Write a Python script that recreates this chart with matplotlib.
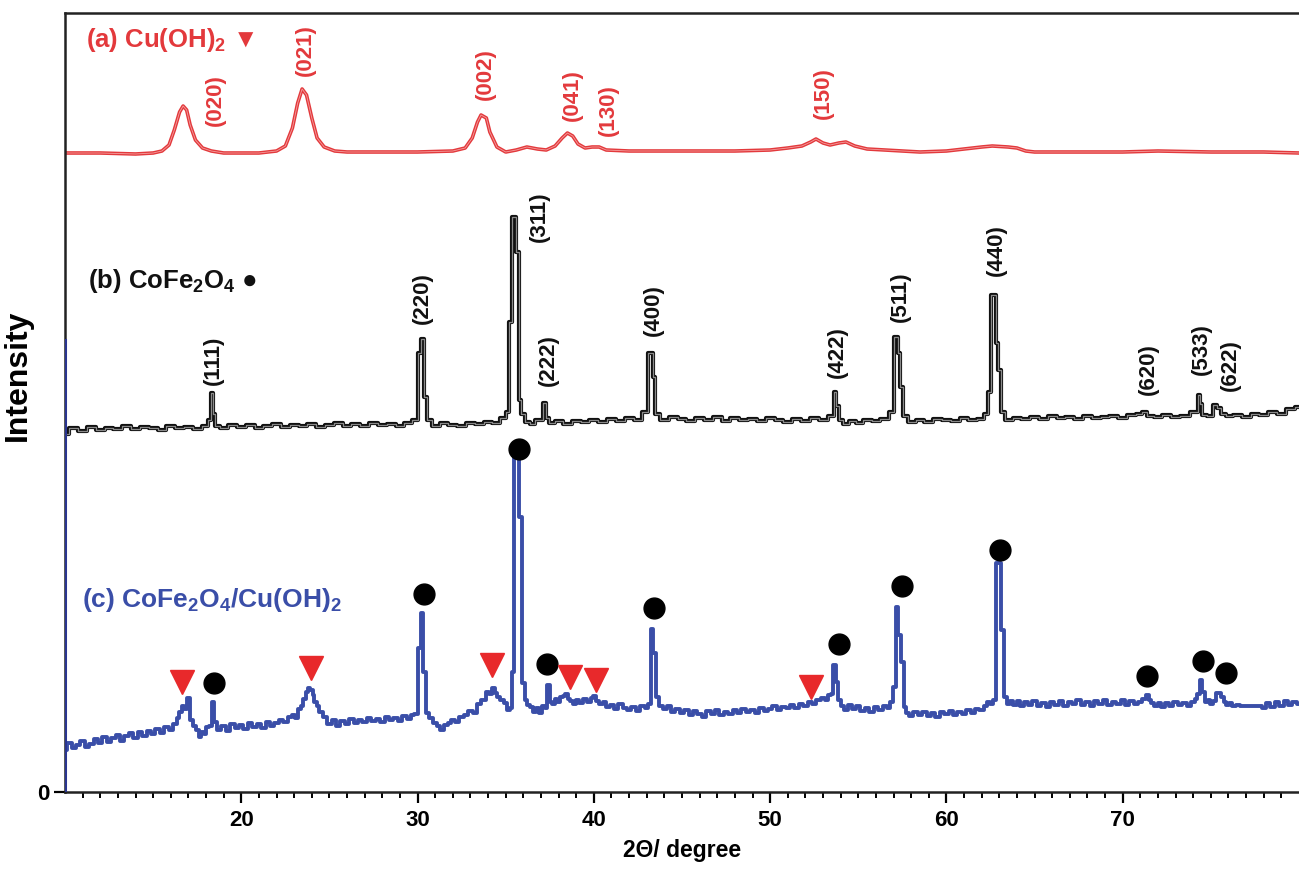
import matplotlib
matplotlib.use('Agg')
import matplotlib.pyplot as plt

plt.rcParams['font.family'] = ['Liberation Sans', 'DejaVu Sans']
plt.rcParams['font.weight'] = 'bold'
plt.rcParams['axes.labelweight'] = 'bold'
plt.rcParams['mathtext.default'] = 'regular'

RED = '#e3393c'
BLUE = '#3a4ea8'
BLACK = '#111111'

# (a) Cu(OH)2 pattern
a_two_theta = [10.0, 12.0, 14.0, 15.0, 15.5, 15.9, 16.2, 16.5, 16.7, 16.9, 17.1, 17.4, 17.8, 18.3, 19.0,
               20.0, 21.0, 22.0, 22.5, 22.9, 23.2, 23.45, 23.7, 24.0, 24.3, 24.7, 25.3, 26.0, 28.0, 30.0,
               32.0, 32.7, 33.1, 33.4, 33.6, 33.9, 34.1, 34.5, 35.0, 35.6, 36.2, 36.8, 37.3, 37.8, 38.2,
               38.5, 38.8, 39.1, 39.5, 39.9, 40.3, 40.7, 42.0, 45.0, 48.0, 50.0, 51.0, 51.8, 52.3, 52.6,
               53.0, 53.4, 53.9, 54.3, 54.8, 55.5, 56.5, 57.5, 58.5, 60.0, 61.0, 62.0, 62.6, 63.5, 64.0,
               64.5, 65.0, 68.0, 70.0, 72.0, 75.0, 78.0, 80.0]
a_intensity = [639, 639, 638, 639, 641, 647, 662, 680, 686, 682, 667, 652, 644, 641, 639,
               639, 639, 641, 646, 664, 689, 703, 697, 674, 654, 645, 641, 640, 640, 640,
               641, 644, 654, 670, 677, 674, 660, 645, 640, 642, 645, 643, 642, 646, 654,
               659, 656, 648, 644, 645, 645, 642, 641, 641, 641, 642, 644, 646, 650, 653,
               649, 647, 649, 650, 646, 643, 642, 641, 640, 641, 643, 645, 646, 645, 644,
               641, 640, 640, 640, 641, 640, 640, 639]

# (b) CoFe2O4 pattern
b_two_theta = [10.0, 10.5, 11.0, 11.5, 12.0, 12.5, 13.0, 13.5, 14.0, 14.5, 15.0, 15.5, 16.0, 16.5, 17.0,
               17.5, 18.0, 18.2, 18.33, 18.45, 18.6, 19.0, 19.5, 20.0, 20.5, 21.0, 21.5, 22.0, 22.5, 23.0,
               23.5, 24.0, 24.5, 25.0, 25.5, 26.0, 26.5, 27.0, 27.5, 28.0, 28.5, 29.0, 29.5, 29.9, 30.15,
               30.28, 30.42, 30.6, 31.0, 31.5, 32.0, 32.5, 33.0, 33.5, 34.0, 34.5, 34.9, 35.15, 35.27,
               35.42, 35.55, 35.67, 35.8, 35.95, 36.2, 36.5, 36.8, 37.05, 37.2, 37.35, 37.6, 38.0, 38.5,
               39.0, 39.5, 40.0, 40.5, 41.0, 41.5, 42.0, 42.5, 43.0, 43.14, 43.28, 43.42, 43.56, 44.0,
               44.5, 45.0, 45.5, 46.0, 46.5, 47.0, 47.5, 48.0, 48.5, 49.0, 49.5, 50.0, 50.5, 51.0, 51.5,
               52.0, 52.5, 53.0, 53.55, 53.68, 53.82, 53.95, 54.3, 54.7, 55.0, 55.5, 56.0, 56.5, 56.95,
               57.08, 57.2, 57.32, 57.45, 57.6, 58.0, 58.5, 59.0, 59.5, 60.0, 60.5, 61.0, 61.5, 62.0,
               62.25, 62.45, 62.62, 62.75, 62.88, 63.02, 63.15, 63.5, 64.0, 64.5, 65.0, 65.5, 66.0, 66.5,
               67.0, 67.5, 68.0, 68.5, 69.0, 69.5, 70.0, 70.5, 71.0, 71.2, 71.5, 72.0, 72.5, 73.0, 73.5,
               74.18, 74.31, 74.44, 74.6, 75.0, 75.27, 75.42, 75.7, 76.0, 76.5, 77.0, 77.5, 78.0, 78.5,
               79.0, 79.5, 80.0]
b_intensity = [358, 364, 361, 365, 362, 364, 363, 366, 363, 365, 364, 362, 366, 364, 365,
               363, 366, 372, 399, 378, 366, 364, 367, 365, 367, 364, 366, 368, 365, 367,
               366, 368, 365, 367, 369, 366, 368, 366, 369, 367, 368, 366, 369, 372, 439,
               453, 395, 372, 366, 369, 367, 366, 369, 368, 370, 369, 374, 380, 470,
               575, 575, 540, 392, 378, 370, 368, 372, 372, 389, 374, 369, 371, 368,
               371, 370, 372, 370, 373, 371, 374, 372, 380, 439, 439, 415, 378, 372,
               375, 373, 371, 374, 372, 375, 371, 374, 372, 373, 371, 374, 372, 370, 373,
               371, 374, 372, 376, 400, 386, 372, 368, 371, 369, 372, 371, 373, 380,
               455, 455, 439, 405, 376, 370, 372, 370, 373, 372, 371, 374, 372, 373,
               378, 400, 497, 497, 449, 422, 380, 372, 374, 373, 375, 373, 376, 374,
               375, 373, 376, 374, 375, 376, 374, 377, 378, 380, 376, 375, 377, 375, 376,
               380, 397, 388, 377, 376, 387, 384, 378, 376, 377, 375, 378, 377, 380,
               378, 383, 385]

# (c) CoFe2O4/Cu(OH)2 pattern
c_two_theta = [10.0, 10.25, 10.5, 10.75, 11.0, 11.25, 11.5, 11.75, 12.0, 12.25, 12.5, 12.75, 13.0,
               13.25, 13.5, 13.75, 14.0, 14.25, 14.5, 14.75, 15.0, 15.25, 15.5, 15.75, 16.0, 16.25,
               16.4, 16.55, 16.7, 16.85, 17.03, 17.2, 17.35, 17.5, 17.65, 17.8, 17.95, 18.1, 18.25,
               18.39, 18.55, 18.75,
               19.0, 19.25, 19.5, 19.75, 20.0, 20.25, 20.5, 20.75, 21.0, 21.25, 21.5, 21.75, 22.0,
               22.25, 22.5, 22.75, 23.0, 23.15, 23.3, 23.45, 23.6, 23.75, 23.85, 24.0, 24.1, 24.2,
               24.35, 24.5, 24.75, 25.0, 25.25, 25.5, 25.75, 26.0, 26.25, 26.5, 26.75, 27.0, 27.25,
               27.5, 27.75, 28.0, 28.25, 28.5, 28.75, 29.0, 29.25, 29.5, 29.75, 29.9,
               30.1, 30.25, 30.4, 30.55, 30.75, 31.0, 31.2, 31.4, 31.6, 31.8, 32.0, 32.25, 32.5,
               32.75, 33.0, 33.25, 33.5, 33.75, 34.0, 34.15, 34.3, 34.45, 34.6, 34.8, 34.95, 35.15,
               35.3, 35.4, 35.55, 35.7, 35.85, 36.0, 36.15, 36.3, 36.45, 36.6, 36.8, 37.0, 37.15,
               37.3, 37.42, 37.55, 37.7, 37.85, 38.0, 38.15, 38.3, 38.45, 38.6, 38.75, 38.9, 39.05,
               39.25, 39.5, 39.75, 39.9, 40.05, 40.2, 40.4, 40.6, 40.8, 41.0, 41.25, 41.5, 41.75,
               42.0, 42.25, 42.5, 42.75, 43.0, 43.15, 43.3, 43.45, 43.6, 43.8,
               44.0, 44.25, 44.5, 44.75, 45.0, 45.25, 45.5, 45.75, 46.0, 46.25, 46.5, 46.75, 47.0,
               47.25, 47.5, 47.75, 48.0, 48.25, 48.5, 48.75, 49.0, 49.25, 49.5, 49.75, 50.0, 50.25,
               50.5, 50.75, 51.0, 51.25, 51.5, 51.75, 52.0, 52.25, 52.5, 52.75, 53.0, 53.2, 53.35,
               53.5, 53.65, 53.8, 53.95, 54.1, 54.3, 54.5, 54.75, 55.0, 55.25, 55.5, 55.75, 56.0,
               56.25, 56.5, 56.75, 56.9, 57.05, 57.2, 57.35, 57.5, 57.65, 57.8,
               58.0, 58.25, 58.5, 58.75, 59.0, 59.25, 59.5, 59.75, 60.0, 60.25, 60.5, 60.75, 61.0,
               61.25, 61.5, 61.75, 62.0, 62.25, 62.4, 62.55, 62.7, 62.88, 63.03, 63.18, 63.33, 63.5,
               63.7, 63.9, 64.1, 64.3, 64.5, 64.75, 65.0, 65.25, 65.5, 65.75, 66.0, 66.25, 66.5,
               66.75, 67.0, 67.25, 67.5, 67.75, 68.0, 68.25, 68.5, 68.75, 69.0, 69.25, 69.5, 69.75,
               70.0, 70.25, 70.5, 70.75, 71.0, 71.2, 71.4, 71.55, 71.7, 71.9, 72.1, 72.3, 72.5,
               72.75, 73.0, 73.25, 73.5, 73.75, 74.0, 74.15, 74.3, 74.45, 74.6, 74.75, 74.9, 75.05,
               75.2, 75.35, 75.5, 75.65, 75.8, 75.95, 76.1, 76.3, 76.5, 76.75, 77.0, 77.25, 77.5,
               77.75, 78.0, 78.25, 78.5, 78.75, 79.0, 79.25, 79.5, 79.75, 80.0]
c_intensity = [42, 49, 44, 47, 51, 45, 48, 53, 49, 55, 50, 54, 57,
               51, 56, 59, 54, 60, 56, 61, 58, 63, 59, 65, 62, 68,
               74, 80, 86, 83, 94, 72, 66, 62, 55, 60, 58, 65, 66,
               90, 70, 62,
               66, 61, 68, 64, 67, 63, 69, 65, 68, 64, 70, 66, 69,
               72, 70, 75, 77, 74, 83, 86, 93, 100, 104, 102, 97, 90,
               86, 80, 75, 68, 72, 66, 71, 68, 73, 69, 72, 70, 74,
               71, 73, 70, 75, 72, 74, 71, 76, 73, 77, 78,
               144, 179, 120, 79, 74, 69, 66, 62, 67, 69, 72, 70, 75,
               77, 81, 79, 88, 92, 100, 98, 104, 99, 95, 92, 89, 82,
               84, 120, 334, 334, 275, 109, 92, 87, 85, 80, 84, 79, 86,
               84, 107, 90, 88, 93, 90, 95, 96, 98, 93, 91, 88, 92,
               89, 93, 90, 94, 96, 91, 88, 90, 85, 87, 83, 88, 84,
               82, 85, 81, 86, 84, 88, 163, 139, 95, 86,
               83, 86, 80, 83, 79, 82, 77, 81, 78, 75, 81, 78, 82,
               77, 80, 78, 82, 79, 83, 80, 82, 79, 84, 81, 83, 86,
               82, 85, 84, 87, 84, 88, 86, 90, 88, 92, 94, 92, 97,
               98, 127, 110, 92, 86, 82, 87, 83, 86, 81, 84, 80, 85,
               82, 86, 84, 90, 105, 185, 157, 130, 85, 79,
               76, 80, 77, 80, 76, 79, 75, 80, 78, 81, 77, 80, 78,
               82, 79, 83, 82, 86, 90, 88, 92, 229, 229, 162, 95, 88,
               91, 87, 91, 86, 90, 87, 91, 86, 89, 85, 90, 87, 91,
               86, 90, 88, 92, 87, 90, 86, 91, 88, 92, 87, 90, 88,
               92, 87, 91, 88, 90, 93, 97, 92, 89, 86, 89, 85, 89,
               86, 90, 87, 89, 86, 90, 93, 98, 112, 100, 90, 92, 88,
               91, 99, 99, 95, 90, 87, 89, 86, 87, 86, 86, 86, 86,
               86, 84, 89, 85, 90, 86, 91, 87, 90, 88]

# phase markers on pattern (c)
spinel_mark_x = [18.44, 30.34, 35.78, 37.37, 43.43, 53.91, 57.48, 63.03, 71.36, 74.53, 75.84]
spinel_mark_y = [109, 198, 343, 128, 184, 148, 206, 242, 116, 131, 119]
hydroxide_mark_x = [16.63, 23.94, 34.25, 38.67, 40.14, 52.32]
hydroxide_mark_y = [110, 124, 127, 115, 112, 105]

# Miller index labels
a_hkl = ['(020)', '(021)', '(002)', '(041)', '(130)', '(150)']
a_hkl_x = [18.51, 23.61, 33.82, 38.76, 40.80, 53.0]
a_hkl_y = [692, 742, 718, 697, 682, 699]
b_hkl = ['(111)', '(220)', '(311)', '(222)', '(400)', '(422)', '(511)', '(440)', '(620)', '(533)', '(622)']
b_hkl_x = [18.40, 30.25, 36.89, 37.40, 43.35, 53.84, 57.36, 62.81, 71.43, 74.49, 76.08]
b_hkl_y = [432, 494, 575, 432, 482, 440, 495, 542, 423, 443, 427]

fig = plt.figure(figsize=(12.99, 8.72), dpi=100)
ax = fig.add_axes([65 / 1299, 80 / 872, 1234 / 1299, 779 / 872])

ax.plot(a_two_theta, a_intensity, color=RED, lw=2.6)
ax.plot(a_two_theta, a_intensity, color='#f4a0a0', lw=0.6)
ax.plot(b_two_theta, b_intensity, color=BLACK, lw=3.0, drawstyle='steps-mid')
ax.plot(b_two_theta, b_intensity, color='#8a8a8a', lw=0.9, drawstyle='steps-mid')
ax.plot(c_two_theta, c_intensity, color=BLUE, lw=2.8, drawstyle='steps-mid')

ax.plot(spinel_mark_x, spinel_mark_y, 'o', color='black', ms=15, ls='none', zorder=5)
ax.plot(hydroxide_mark_x, hydroxide_mark_y, 'v', color='#e8292b', ms=17, ls='none', zorder=5)

for t, x, y in zip(a_hkl, a_hkl_x, a_hkl_y):
    ax.text(x, y, t, color=RED, rotation=90, ha='center', va='center', fontsize=16)
for t, x, y in zip(b_hkl, b_hkl_x, b_hkl_y):
    ax.text(x, y, t, color=BLACK, rotation=90, ha='center', va='center', fontsize=16)

ax.text(11.19, 752, r'(a) Cu(OH)$_2$ ▼', color=RED, fontsize=18.5, ha='left', va='center')
ax.text(11.3, 511, r'(b) CoFe$_2$O$_4$ ●', color=BLACK, fontsize=18.5, ha='left', va='center')
ax.text(10.96, 192, r'(c) CoFe$_2$O$_4$/Cu(OH)$_2$', color=BLUE, fontsize=19, ha='left', va='center')

ax.set_xlim(10, 80)
ax.set_ylim(0, 779)
ax.set_xticks(range(20, 80, 10))
ax.set_xticks([v for v in range(11, 80) if v % 10], minor=True)
ax.set_yticks([0])
ax.tick_params(axis='x', which='major', direction='out', length=8, width=1.6, labelsize=16, pad=5)
ax.tick_params(axis='x', which='minor', direction='out', length=4, width=1.4)
ax.tick_params(axis='y', direction='out', length=8, width=1.6, labelsize=16, pad=3)

for side in ['top', 'left', 'bottom']:
    ax.spines[side].set_linewidth(1.8)
    ax.spines[side].set_color('#222222')
ax.spines['right'].set_visible(False)
ax.axvline(10, ymin=0, ymax=0.58, color='#2a3590', lw=2.2, zorder=6)

ax.set_xlabel('2Θ/ degree', fontsize=16.5, labelpad=6)
ax.set_ylabel('Intensity', fontsize=23)
ax.yaxis.set_label_coords(-0.026, 0.535)

fig.savefig('out.png', dpi=100)
